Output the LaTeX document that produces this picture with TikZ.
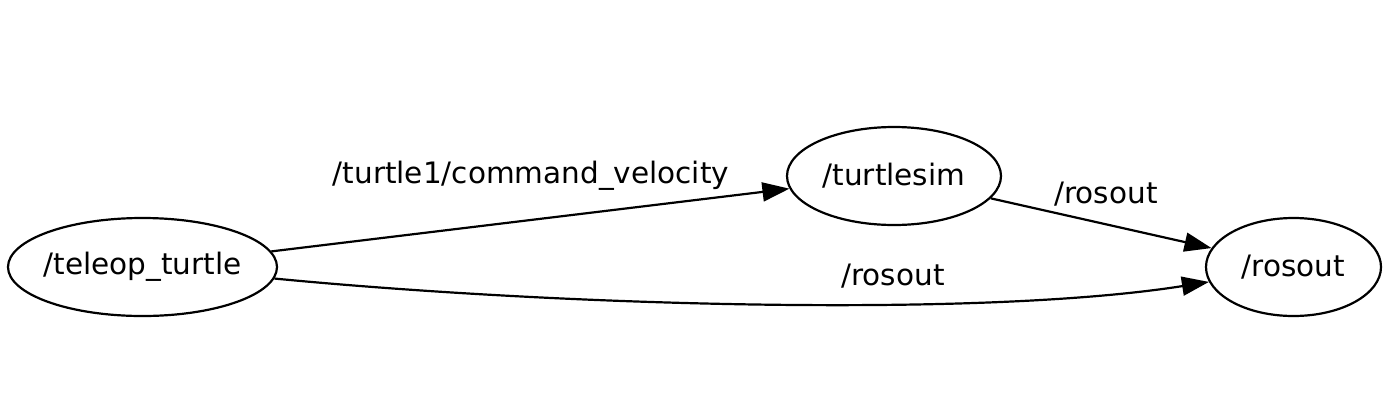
\documentclass[tikz,border=0pt]{standalone}
\usepackage{fontspec}
\setmainfont{DejaVu Sans}
\usetikzlibrary{shapes.geometric,arrows.meta}
\tikzset{
  rosnode/.style={ellipse, draw, line width=2.2pt, inner sep=0pt, font=\fontsize{29.5}{35}\selectfont},
  toplabel/.style={inner sep=0pt, font=\fontsize{29.5}{35}\selectfont},
  conn/.style={line width=2.2pt, -{Triangle[length=27pt,width=19pt]}}
}
\begin{document}
\begin{tikzpicture}[x=1pt,y=-1pt]
\useasboundingbox (0,0) rectangle (1389,413);
\node[rosnode, minimum width=269pt, minimum height=98pt] (tt) at (142.5,267) {\makebox[0pt]{/teleop\_turtle}};
\node[rosnode, minimum width=214pt, minimum height=98pt] (ts) at (894,176) {\makebox[0pt]{/turtlesim}};
\node[rosnode, minimum width=175pt, minimum height=98pt] (ro) at (1293.5,267) {\makebox[0pt]{/rosout}};
\draw[conn] (tt) -- (ts);
\draw[conn] (ts.-13) -- (ro.167);
\draw[conn] (tt.-5) .. controls (560,306) and (980,318) .. (ro.190);
\node[toplabel] (l1) at (531,176) {/turtle1/command\_velocity};
\node[toplabel] (l2) at (1106,194) {/rosout};
\node[toplabel] (l3) at (893,276) {/rosout};
\end{tikzpicture}
\end{document}
